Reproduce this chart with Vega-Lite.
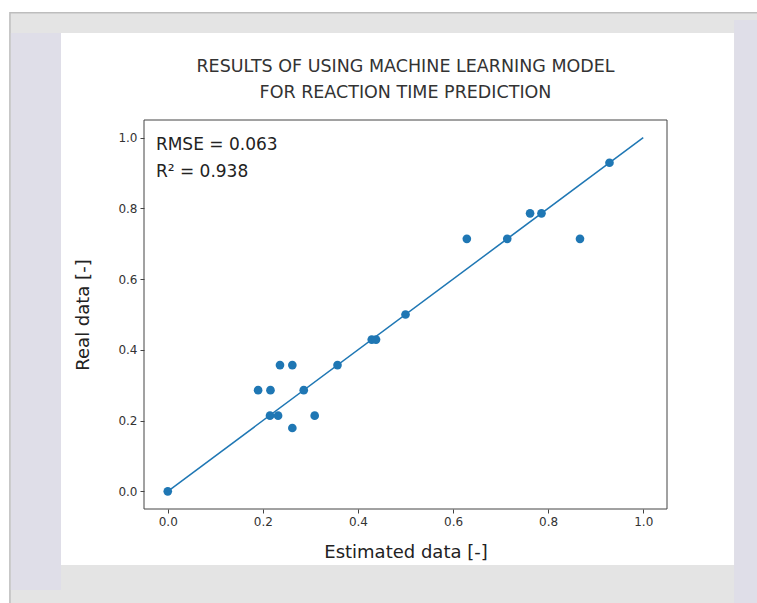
{
  "$schema": "https://vega.github.io/schema/vega-lite/v6.json",
  "width": 523,
  "height": 389,
  "autosize": {"type": "none"},
  "padding": {"left": 144, "top": 120, "right": 90, "bottom": 94},
  "background": "white",
  "config": {"view": {"stroke": null}, "font": "DejaVu Sans"},
  "title": {
    "text": ["RESULTS OF USING MACHINE LEARNING MODEL", "FOR REACTION TIME PREDICTION"],
    "fontSize": 17.5,
    "fontWeight": "normal",
    "color": "#333333",
    "lineHeight": 26,
    "anchor": "middle",
    "frame": "group",
    "offset": -89
  },
  "datasets": {
    "points": [
      {"estimated": 0.0, "real": 0.0},
      {"estimated": 0.19, "real": 0.286},
      {"estimated": 0.216, "real": 0.286},
      {"estimated": 0.236, "real": 0.357},
      {"estimated": 0.262, "real": 0.357},
      {"estimated": 0.286, "real": 0.286},
      {"estimated": 0.215, "real": 0.214},
      {"estimated": 0.232, "real": 0.214},
      {"estimated": 0.309, "real": 0.214},
      {"estimated": 0.262, "real": 0.179},
      {"estimated": 0.357, "real": 0.357},
      {"estimated": 0.429, "real": 0.429},
      {"estimated": 0.438, "real": 0.429},
      {"estimated": 0.5, "real": 0.5},
      {"estimated": 0.629, "real": 0.714},
      {"estimated": 0.714, "real": 0.714},
      {"estimated": 0.867, "real": 0.714},
      {"estimated": 0.762, "real": 0.786},
      {"estimated": 0.786, "real": 0.786},
      {"estimated": 0.929, "real": 0.929}
    ],
    "fit": [
      {"estimated": 0.0, "real": 0.0},
      {"estimated": 1.0, "real": 1.0}
    ],
    "one": [{}]
  },
  "encoding": {
    "x": {
      "type": "quantitative",
      "scale": {"domain": [-0.05, 1.05], "nice": false, "zero": false},
      "axis": {
        "title": "Estimated data [-]",
        "values": [0, 0.2, 0.4, 0.6, 0.8, 1.0],
        "format": ".1f",
        "grid": false,
        "domain": false,
        "tickColor": "#444444",
        "tickSize": 4,
        "labelFontSize": 12,
        "labelColor": "#333333",
        "labelPadding": 3,
        "titleFontSize": 18,
        "titleFontWeight": "normal",
        "titleColor": "#222222",
        "titlePadding": 16,
        "zindex": 1
      }
    },
    "y": {
      "type": "quantitative",
      "scale": {"domain": [-0.05, 1.05], "nice": false, "zero": false},
      "axis": {
        "title": "Real data [-]",
        "values": [0, 0.2, 0.4, 0.6, 0.8, 1.0],
        "format": ".1f",
        "grid": false,
        "domain": false,
        "tickColor": "#444444",
        "tickSize": 4,
        "labelFontSize": 12,
        "labelColor": "#333333",
        "labelPadding": 3,
        "titleFontSize": 18,
        "titleFontWeight": "normal",
        "titleColor": "#222222",
        "titlePadding": 25,
        "zindex": 1
      }
    }
  },
  "layer": [
    {
      "data": {"name": "one"},
      "mark": {"type": "rect", "clip": false, "fill": "#e4e4e4", "stroke": "#bdbdbd", "strokeWidth": 1.5},
      "encoding": {
        "x": {"datum": -0.332},
        "x2": {"datum": 1.3},
        "y": {"datum": 1.353},
        "y2": {"datum": -0.35}
      }
    },
    {
      "data": {"name": "one"},
      "mark": {"type": "rect", "clip": false, "fill": "#dfdee8"},
      "encoding": {
        "x": {"datum": -0.33},
        "x2": {"datum": -0.2246},
        "y": {"datum": 1.296},
        "y2": {"datum": -0.279}
      }
    },
    {
      "data": {"name": "one"},
      "mark": {"type": "rect", "clip": false, "fill": "#dfdee8"},
      "encoding": {
        "x": {"datum": 1.191},
        "x2": {"datum": 1.3},
        "y": {"datum": 1.333},
        "y2": {"datum": -0.35}
      }
    },
    {
      "data": {"name": "one"},
      "mark": {"type": "rect", "clip": false, "fill": "#ffffff"},
      "encoding": {
        "x": {"datum": -0.2246},
        "x2": {"datum": 1.191},
        "y": {"datum": 1.296},
        "y2": {"datum": -0.2084}
      }
    },
    {
      "data": {"name": "fit"},
      "mark": {"type": "line", "color": "#1f77b4", "strokeWidth": 1.5},
      "encoding": {
        "x": {"field": "estimated", "type": "quantitative"},
        "y": {"field": "real", "type": "quantitative"}
      }
    },
    {
      "data": {"name": "points"},
      "mark": {"type": "circle", "color": "#1f77b4", "opacity": 1, "size": 75},
      "encoding": {
        "x": {"field": "estimated", "type": "quantitative"},
        "y": {"field": "real", "type": "quantitative"}
      }
    },
    {
      "data": {"name": "one"},
      "mark": {"type": "rect", "clip": false, "fill": null, "fillOpacity": 0, "stroke": "#444444", "strokeWidth": 1},
      "encoding": {
        "x": {"datum": -0.05},
        "x2": {"datum": 1.05},
        "y": {"datum": 1.05},
        "y2": {"datum": -0.05}
      }
    },
    {
      "data": {"name": "one"},
      "mark": {"type": "text", "clip": false, "align": "left", "baseline": "alphabetic", "fontSize": 17, "lineHeight": 27, "color": "#222222"},
      "encoding": {
        "x": {"datum": -0.025},
        "y": {"datum": 0.965},
        "text": {"value": ["RMSE = 0.063", "R² = 0.938"]}
      }
    }
  ]
}
